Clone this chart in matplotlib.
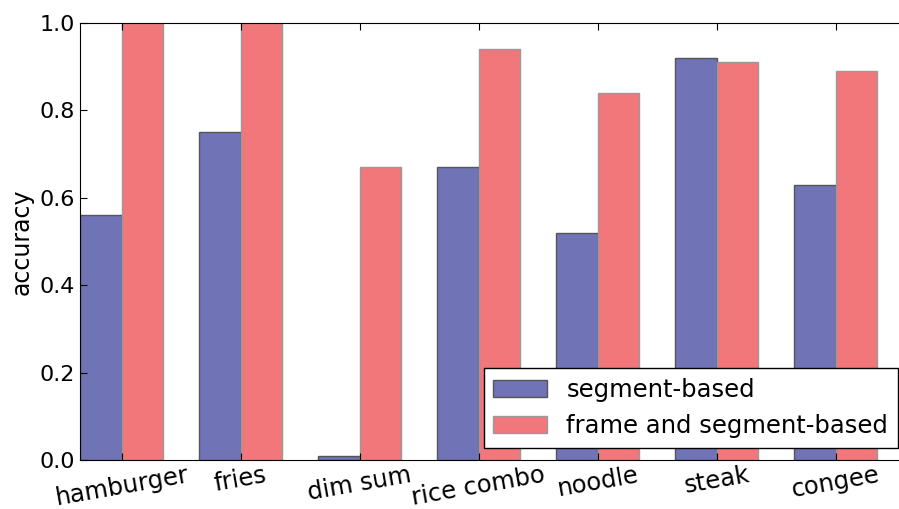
import numpy as np
import matplotlib.pyplot as plt

categories = ['hamburger', 'fries', 'dim sum', 'rice combo', 'noodle', 'steak', 'congee']
segment_based = [0.56, 0.75, 0.01, 0.67, 0.52, 0.92, 0.63]
frame_and_segment = [1.0, 1.0, 0.67, 0.94, 0.84, 0.91, 0.89]

plt.rcParams['font.family'] = 'DejaVu Sans'
plt.rcParams['font.size'] = 16

fig = plt.figure(figsize=(8.99, 5.09), dpi=100)
ax = fig.add_axes([80 / 899, 49 / 509, 830 / 899, 437 / 509])

x = np.arange(len(categories))
w = 0.35
ax.bar(x - w, segment_based, w, align='edge', color='#7074b6', edgecolor='#555555', linewidth=1,
       label='segment-based')
ax.bar(x, frame_and_segment, w, align='edge', color='#f2777a', edgecolor='#999999', linewidth=1,
       label='frame and segment-based')

ax.set_xlim(-0.35, -0.35 + 830 / 119)
ax.set_ylim(0, 1.0)
ax.set_yticks([0.0, 0.2, 0.4, 0.6, 0.8, 1.0])
ax.set_xticks(x)
ax.set_xticklabels(categories, rotation=10, fontsize=17.5)
ax.set_ylabel('accuracy', fontsize=17)
ax.tick_params(direction='in', top=True, right=True, length=5)
ax.tick_params(axis='y', labelsize=16)
ax.tick_params(axis='x', pad=2)

leg = ax.legend(loc='lower right', bbox_to_anchor=(898 / 899, 61 / 509), bbox_transform=fig.transFigure,
                borderaxespad=0, fancybox=False, framealpha=1, fontsize=17.5, handlelength=2.2)
leg.get_frame().set_edgecolor('black')
leg.get_frame().set_linewidth(1)

fig.savefig('out.png', dpi=100)
